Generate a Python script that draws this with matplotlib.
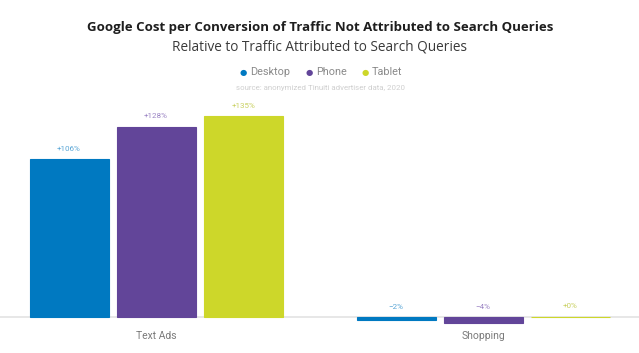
import matplotlib
matplotlib.use("Agg")
import matplotlib.pyplot as plt
import numpy as np

categories = ["Text Ads", "Shopping"]
series = ["Desktop", "Phone", "Tablet"]
desktop = [106, -2]
phone = [128, -4]
tablet = [135, 0.3]
values = [desktop, phone, tablet]
colors = ["#0079C1", "#624599", "#CDD72A"]
label_colors = ["#5AA6D6", "#9B84C4", "#C9D060"]

W, H = 639, 353
fig = plt.figure(figsize=(W / 100, H / 100), dpi=100)

# axes in pixel coordinates
left_px, right_px = -7.5, 647
top_px, bot_px = 100, 330
ax = fig.add_axes([left_px / W, 1 - bot_px / H, (right_px - left_px) / W, (bot_px - top_px) / H])
ppu = 1.487
ax.set_ylim(-(bot_px - 317) / ppu, (317 - top_px) / ppu)
ax.set_xlim(-0.5, 1.5)
ax.axis("off")

x = np.arange(len(categories))
bw = 79 / 327
step = 87 / 327
for i, (vals, c, lc) in enumerate(zip(values, colors, label_colors)):
    xs = x + (i - 1) * step
    ax.bar(xs, vals, width=bw, color=c, edgecolor=c, linewidth=0.8, zorder=3)
    for xv, v in zip(xs, vals):
        r = round(v)
        txt = ("+%d%%" % r) if r >= 0 else ("\u2212%d%%" % abs(r))
        y = max(v, 0) + 5.0
        ax.text(xv, y, txt, ha="center", va="bottom", fontsize=5.8, color=lc,
                family="Roboto")

ax.axhline(0, color="#E3E3E3", linewidth=1.2, zorder=1, xmin=0, xmax=1)
for xi, cat in zip(x, categories):
    ax.text(xi, -(336 - 317) / ppu, cat, ha="center", va="center", fontsize=7.5,
            color="#7A7A7A", family="Roboto")

fig.text(320 / W, 1 - 27 / H, "Google Cost per Conversion of Traffic Not Attributed to Search Queries",
         ha="center", va="center", fontsize=9.5, fontweight="bold", color="#1E1E1E", family="Open Sans")
fig.text(320 / W, 1 - 47 / H, "Relative to Traffic Attributed to Search Queries",
         ha="center", va="center", fontsize=9.8, color="#3A3A3A", family="Open Sans")

# legend
leg_x = [243, 309, 365]
for lx, name, c in zip(leg_x, series, colors):
    fig.text(lx / W, 1 - 72.5 / H, "\u25CF", ha="center", va="center", fontsize=6, color=c, family="DejaVu Sans")
    fig.text((lx + 7) / W, 1 - 72 / H, name, ha="left", va="center", fontsize=7.8, color="#8A8A8A", family="Roboto")
fig.text(320 / W, 1 - 88 / H, "source: anonymized Tinuiti advertiser data, 2020",
         ha="center", va="center", fontsize=5.7, color="#CFCFCF", family="Roboto")

fig.savefig("out.png", dpi=100)
